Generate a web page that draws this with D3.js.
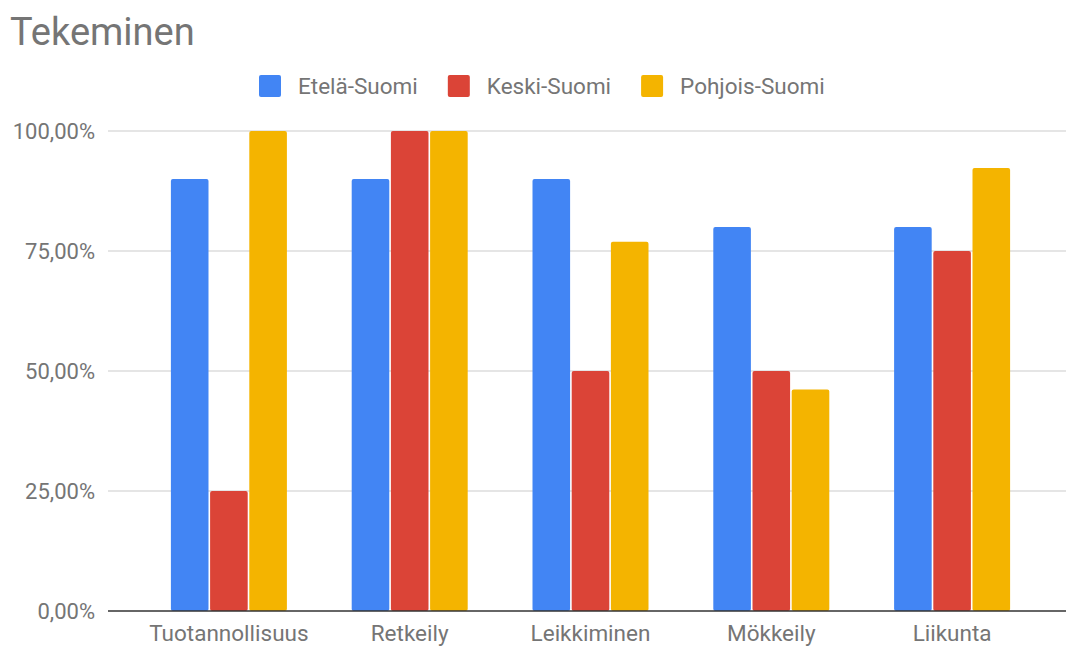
<html>
<head>
<meta charset="utf-8">
<script src="https://d3js.org/d3.v7.min.js"></script>
<style>
  body { margin: 0; background: #fff; }
  svg { font-family: Roboto, Arial, sans-serif; }
</style>
</head>
<body>
<div id="chart"></div>
<script>
// data
var categories = ["Tuotannollisuus", "Retkeily", "Leikkiminen", "Mökkeily", "Liikunta"];
var seriesNames = ["Etelä-Suomi", "Keski-Suomi", "Pohjois-Suomi"];
var etela = [90, 90, 90, 80, 80];
var keski = [25, 100, 50, 50, 75];
var pohjois = [100, 100, 76.92, 46.15, 92.31];
var yTicks = [0, 25, 50, 75, 100];

var colors = ["#4285F4", "#DB4437", "#F4B400"];
var allSeries = [etela, keski, pohjois];

var width = 1066, height = 646;

var svg = d3.select("#chart").append("svg")
  .attr("width", width)
  .attr("height", height);

/* Scales */
var y = d3.scaleLinear().domain([0, 100]).range([611, 131]);
var x0 = d3.scaleBand().domain(categories).range([138.5, 1042.5]);
var groupW = 117.6;
var x1 = d3.scaleBand().domain(seriesNames).range([0, groupW]);

/* Gridlines */
svg.append("g")
  .selectAll("line")
  .data(yTicks.filter(d => d > 0)).enter()
  .append("line")
  .attr("x1", 108).attr("x2", 1066)
  .attr("y1", d => y(d)).attr("y2", d => y(d))
  .attr("stroke", "#cccccc")
  .attr("stroke-width", 1.2);

/* Y axis labels */
var fmt = d => d.toFixed(2).replace(".", ",") + "%";
svg.append("g")
  .selectAll("text")
  .data(yTicks).enter()
  .append("text")
  .attr("x", 95)
  .attr("y", d => y(d))
  .attr("dy", "0.35em")
  .attr("text-anchor", "end")
  .attr("fill", "#757575")
  .style("font-size", "22px")
  .text(fmt);

/* Bars */
var groups = svg.append("g")
  .selectAll("g")
  .data(categories).enter()
  .append("g")
  .attr("transform", d => `translate(${x0(d) + x0.bandwidth() / 2 - groupW / 2},0)`);

groups.selectAll("rect")
  .data((c, i) => seriesNames.map((s, j) => ({ s: s, v: allSeries[j][i], j: j })))
  .enter()
  .append("rect")
  .attr("x", d => x1(d.s) + 0.8)
  .attr("width", x1.bandwidth() - 1.6)
  .attr("y", d => y(d.v))
  .attr("height", d => y(0) - y(d.v))
  .attr("rx", 2)
  .attr("fill", d => colors[d.j]);

/* Baseline */
svg.append("line")
  .attr("x1", 108).attr("x2", 1066)
  .attr("y1", y(0)).attr("y2", y(0))
  .attr("stroke", "#333")
  .attr("stroke-width", 1.5);

/* X axis labels */
svg.append("g")
  .selectAll("text")
  .data(categories).enter()
  .append("text")
  .attr("x", d => x0(d) + x0.bandwidth() / 2)
  .attr("y", 641)
  .attr("text-anchor", "middle")
  .attr("fill", "#757575")
  .style("font-size", "22.5px")
  .text(d => d);

/* Title */
svg.append("text")
  .attr("x", 10)
  .attr("y", 45)
  .attr("fill", "#757575")
  .style("font-size", "38px")
  .text("Tekeminen");

/* Legend */
var legend = svg.append("g");
var lx = 259;
seriesNames.forEach(function(name, i) {
  legend.append("rect")
    .attr("x", lx).attr("y", 75)
    .attr("width", 22).attr("height", 22)
    .attr("rx", 2)
    .attr("fill", colors[i]);
  var t = legend.append("text")
    .attr("x", lx + 39)
    .attr("y", 86)
    .attr("dy", "0.35em")
    .attr("fill", "#757575")
    .style("font-size", "22.5px")
    .text(name);
  lx = lx + 39 + t.node().getComputedTextLength() + 30;
});
</script>
</body>
</html>
